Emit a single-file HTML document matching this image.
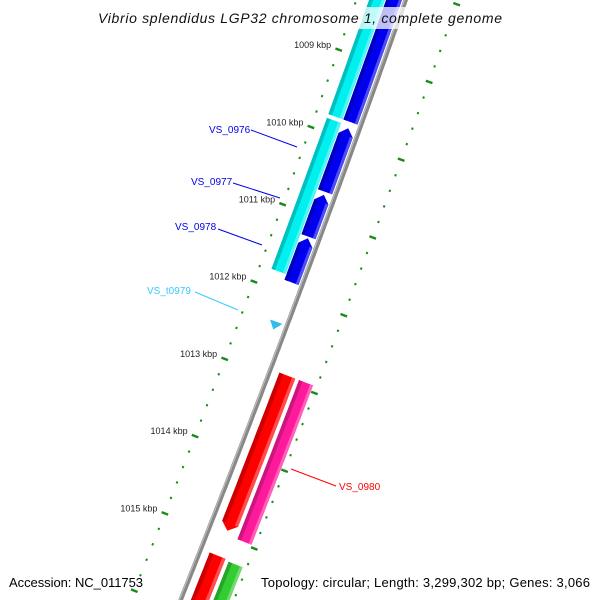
<!DOCTYPE html>
<html><head><meta charset="utf-8"><style>
html,body{margin:0;padding:0;background:#fff;width:600px;height:600px;overflow:hidden}
svg{display:block;font-family:"Liberation Sans","DejaVu Sans",sans-serif}
</style></head><body>
<svg id="map" width="600" height="600" viewBox="0 0 600 600" xmlns="http://www.w3.org/2000/svg">
<rect width="600" height="600" fill="#fff"/>
<g id="ticks"></g>
<g id="feat"></g>
<g id="labs"></g>
<rect x="95" y="7" width="410" height="22" fill="rgba(255,255,255,0.75)"/>
<text x="98" y="23" textLength="404" lengthAdjust="spacing" font-size="14" font-style="italic" fill="#111">Vibrio splendidus LGP32 chromosome 1, complete genome</text>
<text x="9" y="587" font-size="13" textLength="134" lengthAdjust="spacing" fill="#000">Accession: NC_011753</text>
<text x="261" y="587" font-size="13" textLength="329" lengthAdjust="spacing" fill="#000">Topology: circular; Length: 3,299,302 bp; Genes: 3,066</text>
</svg>
<script>
const tickKbp = [1009, 1010, 1011, 1012, 1013, 1014, 1015];
const tickLabels = ["1009 kbp","1010 kbp","1011 kbp","1012 kbp","1013 kbp","1014 kbp","1015 kbp"];
const featNames = ["cyan-1","cyan-2","VS_0976-prev","VS_0976","VS_0977","VS_0978","VS_t0979","VS_0980-red","VS_0980","next-red","next-green"];
const featStart = [1007.9, 1009.83, 1007.9, 1009.86, 1010.72, 1011.28, 1012.36, 1012.92, 1012.92, 1015.24, 1015.26];
const featEnd   = [1009.78, 1011.78, 1009.78, 1010.68, 1011.26, 1011.85, 1012.46, 1014.92, 1014.97, 1016.5, 1016.5];
const featTrack = [-2, -2, -1, -1, -1, -1, -1, 1, 2, 1, 2];
const featDir   = [0, 0, 0, -1, -1, -1, 1, 1, 0, 0, 0];
const featColor = ["#00f0f0","#00f0f0","#0000ee","#0000ee","#0000ee","#0000ee","#33bbee","#ff0000","#ff1a9c","#ff0000","#33cc33"];
const labelText = ["VS_0976","VS_0977","VS_0978","VS_t0979","VS_0980"];
const labelColor = ["#0000ee","#0000ee","#0000ee","#33ccff","#ff0000"];

const NS="http://www.w3.org/2000/svg";
function X(s){return 403-0.3517*s-3.9e-5*s*s;}
function sOf(k){return 297+77.5*(k-1012);}
function P(k,d){const s=sOf(k);const dx=-0.3517-7.8e-5*s;const L=Math.sqrt(1+dx*dx);return [X(s)+d/L, s+d*(-dx)/L];}
function mk(tag,attrs,parent){const e=document.createElementNS(NS,tag);for(const a in attrs)e.setAttribute(a,attrs[a]);parent.appendChild(e);return e;}
const tg=document.getElementById('ticks'), fg=document.getElementById('feat'), lg=document.getElementById('labs');

let pts=[];for(let k=1008.0;k<=1016.0;k+=0.05){const p=P(k,2.5);pts.push(p[0].toFixed(1)+','+p[1].toFixed(1));}
const bb=mk('polyline',{points:pts.join(' '),fill:'none',stroke:'#888','stroke-width':4.5},tg);


pts=[];for(let k=1008.0;k<=1016.0;k+=0.05){const p=P(k,1.2);pts.push(p[0].toFixed(1)+','+p[1].toFixed(1));}
const bb2=mk('polyline',{points:pts.join(' '),fill:'none',stroke:'#bbb','stroke-width':1.2},tg);



[-44,52].forEach(function(d){
  for(let i=0;i<=42;i++){
    const k=1007.8+i*0.2;const major=Math.abs(k-Math.round(k))<0.01;
    const half=major?3.5:1;
    const a=P(k,d-half),b=P(k,d+half);
    const t=mk('line',{x1:a[0],y1:a[1],x2:b[0],y2:b[1],stroke:'#1a8a1a','stroke-width':major?2.4:2.2},tg);
    
    
  }
});
tickKbp.forEach(function(k,i){
  const p=P(k,-52);
  const t=mk('text',{x:p[0].toFixed(1),y:(p[1]+1).toFixed(1),'text-anchor':'end','font-size':9,fill:'#222'},tg);
  t.textContent=tickLabels[i];
  
  
});

const trackD={'-2':[-32,-17],'-1':[-16,-1],'1':[12,29],'2':[33,48]};
const AL=7/77.5;
function shade(c,f){const n=parseInt(c.slice(1),16);let r=n>>16,g=(n>>8)&255,b=n&255;
  if(f<0){r=r*(1+f);g=g*(1+f);b=b*(1+f);}else{r=r+(255-r)*f;g=g+(255-g)*f;b=b+(255-b)*f;}
  return 'rgb('+[r,g,b].map(v=>Math.round(v)).join(',')+')';}
function featPoly(k0,k1,d1,d2,dir){
  let a=k0,b=k1;
  if(dir===-1)a=Math.min(k0+AL,k1);if(dir===1)b=Math.max(k1-AL,k0);
  const L=[],R=[];
  for(let j=0;j<=20;j++){const k=a+(b-a)*j/20;L.push(P(k,d1));R.push(P(k,d2));}
  let out=[];
  if(dir===-1)out.push(P(k0,(d1+d2)/2));
  out=out.concat(L);
  if(dir===1)out.push(P(k1,(d1+d2)/2));
  out=out.concat(R.reverse());
  return out.map(p=>p[0].toFixed(1)+','+p[1].toFixed(1)).join(' ');
}
featStart.forEach(function(k0,i){
  const k1=featEnd[i];const dd=trackD[String(featTrack[i])];
  let d1=dd[0],d2=dd[1];
  if(featNames[i]==='VS_t0979'){d1=-15;d2=-3;}
  const g=mk('g',{},fg);
  
  
  mk('polygon',{points:featPoly(k0,k1,d1,d2,featDir[i]),fill:featColor[i]},g);
  if(featNames[i]!=='VS_t0979'){
    const w=d2-d1;
    const s0=featDir[i]===-1?k0+AL:k0, s1=featDir[i]===1?k1-AL:k1;
    mk('polygon',{points:featPoly(s0,s1,d1,d1+w*0.25,0),fill:shade(featColor[i],-0.2)},g);
    mk('polygon',{points:featPoly(s0,s1,d2-w*0.2,d2,0),fill:shade(featColor[i],0.3)},g);
  }
});

const labelPos=[[209,133,251,130,297,147],[191,185,233,183,280,198],[175,230,218,229,262,245],[147,294,195,292,238,310],[339,490,291,469,336,486]];
labelText.forEach(function(t,i){
  const p=labelPos[i];
  const ln=mk('line',{x1:p[2],y1:p[3],x2:p[4],y2:p[5],stroke:labelColor[i],'stroke-width':1},lg);
  
  
  const tx=mk('text',{x:p[0],y:p[1],'font-size':10,fill:labelColor[i]},lg);
  tx.textContent=t;
  
  
});
</script>
</body></html>
